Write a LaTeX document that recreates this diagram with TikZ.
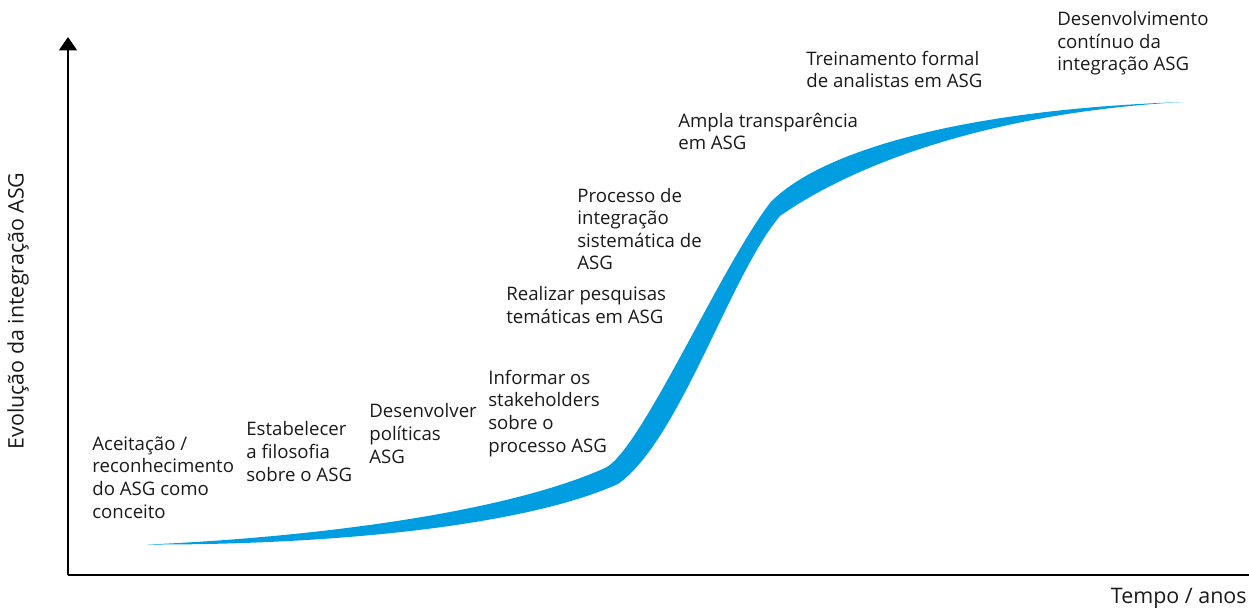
\documentclass[tikz,border=0pt]{standalone}
\usepackage{fontspec}
\setmainfont{Open Sans}
\usepackage{tikz}
\usetikzlibrary{arrows.meta}

\definecolor{asgblue}{RGB}{0,158,224}
\definecolor{inktext}{RGB}{26,26,26}

\begin{document}
\begin{tikzpicture}[
        x=0.02cm, y=-0.02cm,
        stage/.style={
          anchor=base west,
          inner sep=0pt,
          align=left,
          text=inktext,
          font=\fontsize{10.6}{12.9}\selectfont
        },
        axislabel/.style={
          inner sep=0pt,
          text=inktext,
          font=\fontsize{12.2}{14}\selectfont
        },
        axis/.style={
          line width=1.1pt,
          draw=black
        }
      ]
      \useasboundingbox (0,0) rectangle (1249,608);

      % Axes
      \coordinate (origin) at (68,575);
      \coordinate (ytop) at (68,37);
      \coordinate (xend) at (1249,575);
      \draw [axis, -{Triangle[width=0.36cm,length=0.27cm]}] (origin) -- (ytop);
      \draw [axis] (origin) -- (xend);
      \node [axislabel, rotate=90] (ylabel) at (18,311) {Evolução da integração ASG};
      \node [axislabel, anchor=base east] (xlabel) at (1247,603) {Tempo / anos};

      % S-curve (tapered band)
      \fill [asgblue] (148,544.5)
        .. controls (300,538) and (500,515) .. (605,468)
        .. controls (640,452) and (720,268) .. (770,203)
        .. controls (815,155) and (950,110) .. (1183,102)
        .. controls (1000,112) and (860,160) .. (780,216)
        .. controls (730,275) and (680,440) .. (618,484)
        .. controls (520,528) and (320,545) .. (148,544.5) -- cycle;

      % Nodes (placed at the baseline of their last line)
      \node [stage] (s1) at (92,518) {Aceitação /\\reconhecimento\\do ASG como\\conceito};
      \node [stage] (s2) at (246,481) {Estabelecer\\a filosofia\\sobre o ASG};
      \node [stage] (s3) at (369,463) {Desenvolver\\políticas\\ASG};
      \node [stage] (s4) at (488,452) {Informar os\\stakeholders\\sobre o\\processo ASG};
      \node [stage] (s5) at (506,323) {Realizar pesquisas\\temáticas em ASG};
      \node [stage] (s6) at (577,270) {Processo de\\integração\\sistemática de\\ASG};
      \node [stage] (s7) at (678,150) {Ampla transparência\\em ASG};
      \node [stage] (s8) at (806,88) {Treinamento formal\\de analistas em ASG};
      \node [stage] (s9) at (1057,71) {Desenvolvimento\\contínuo da\\integração ASG};

    \end{tikzpicture}
\end{document}
